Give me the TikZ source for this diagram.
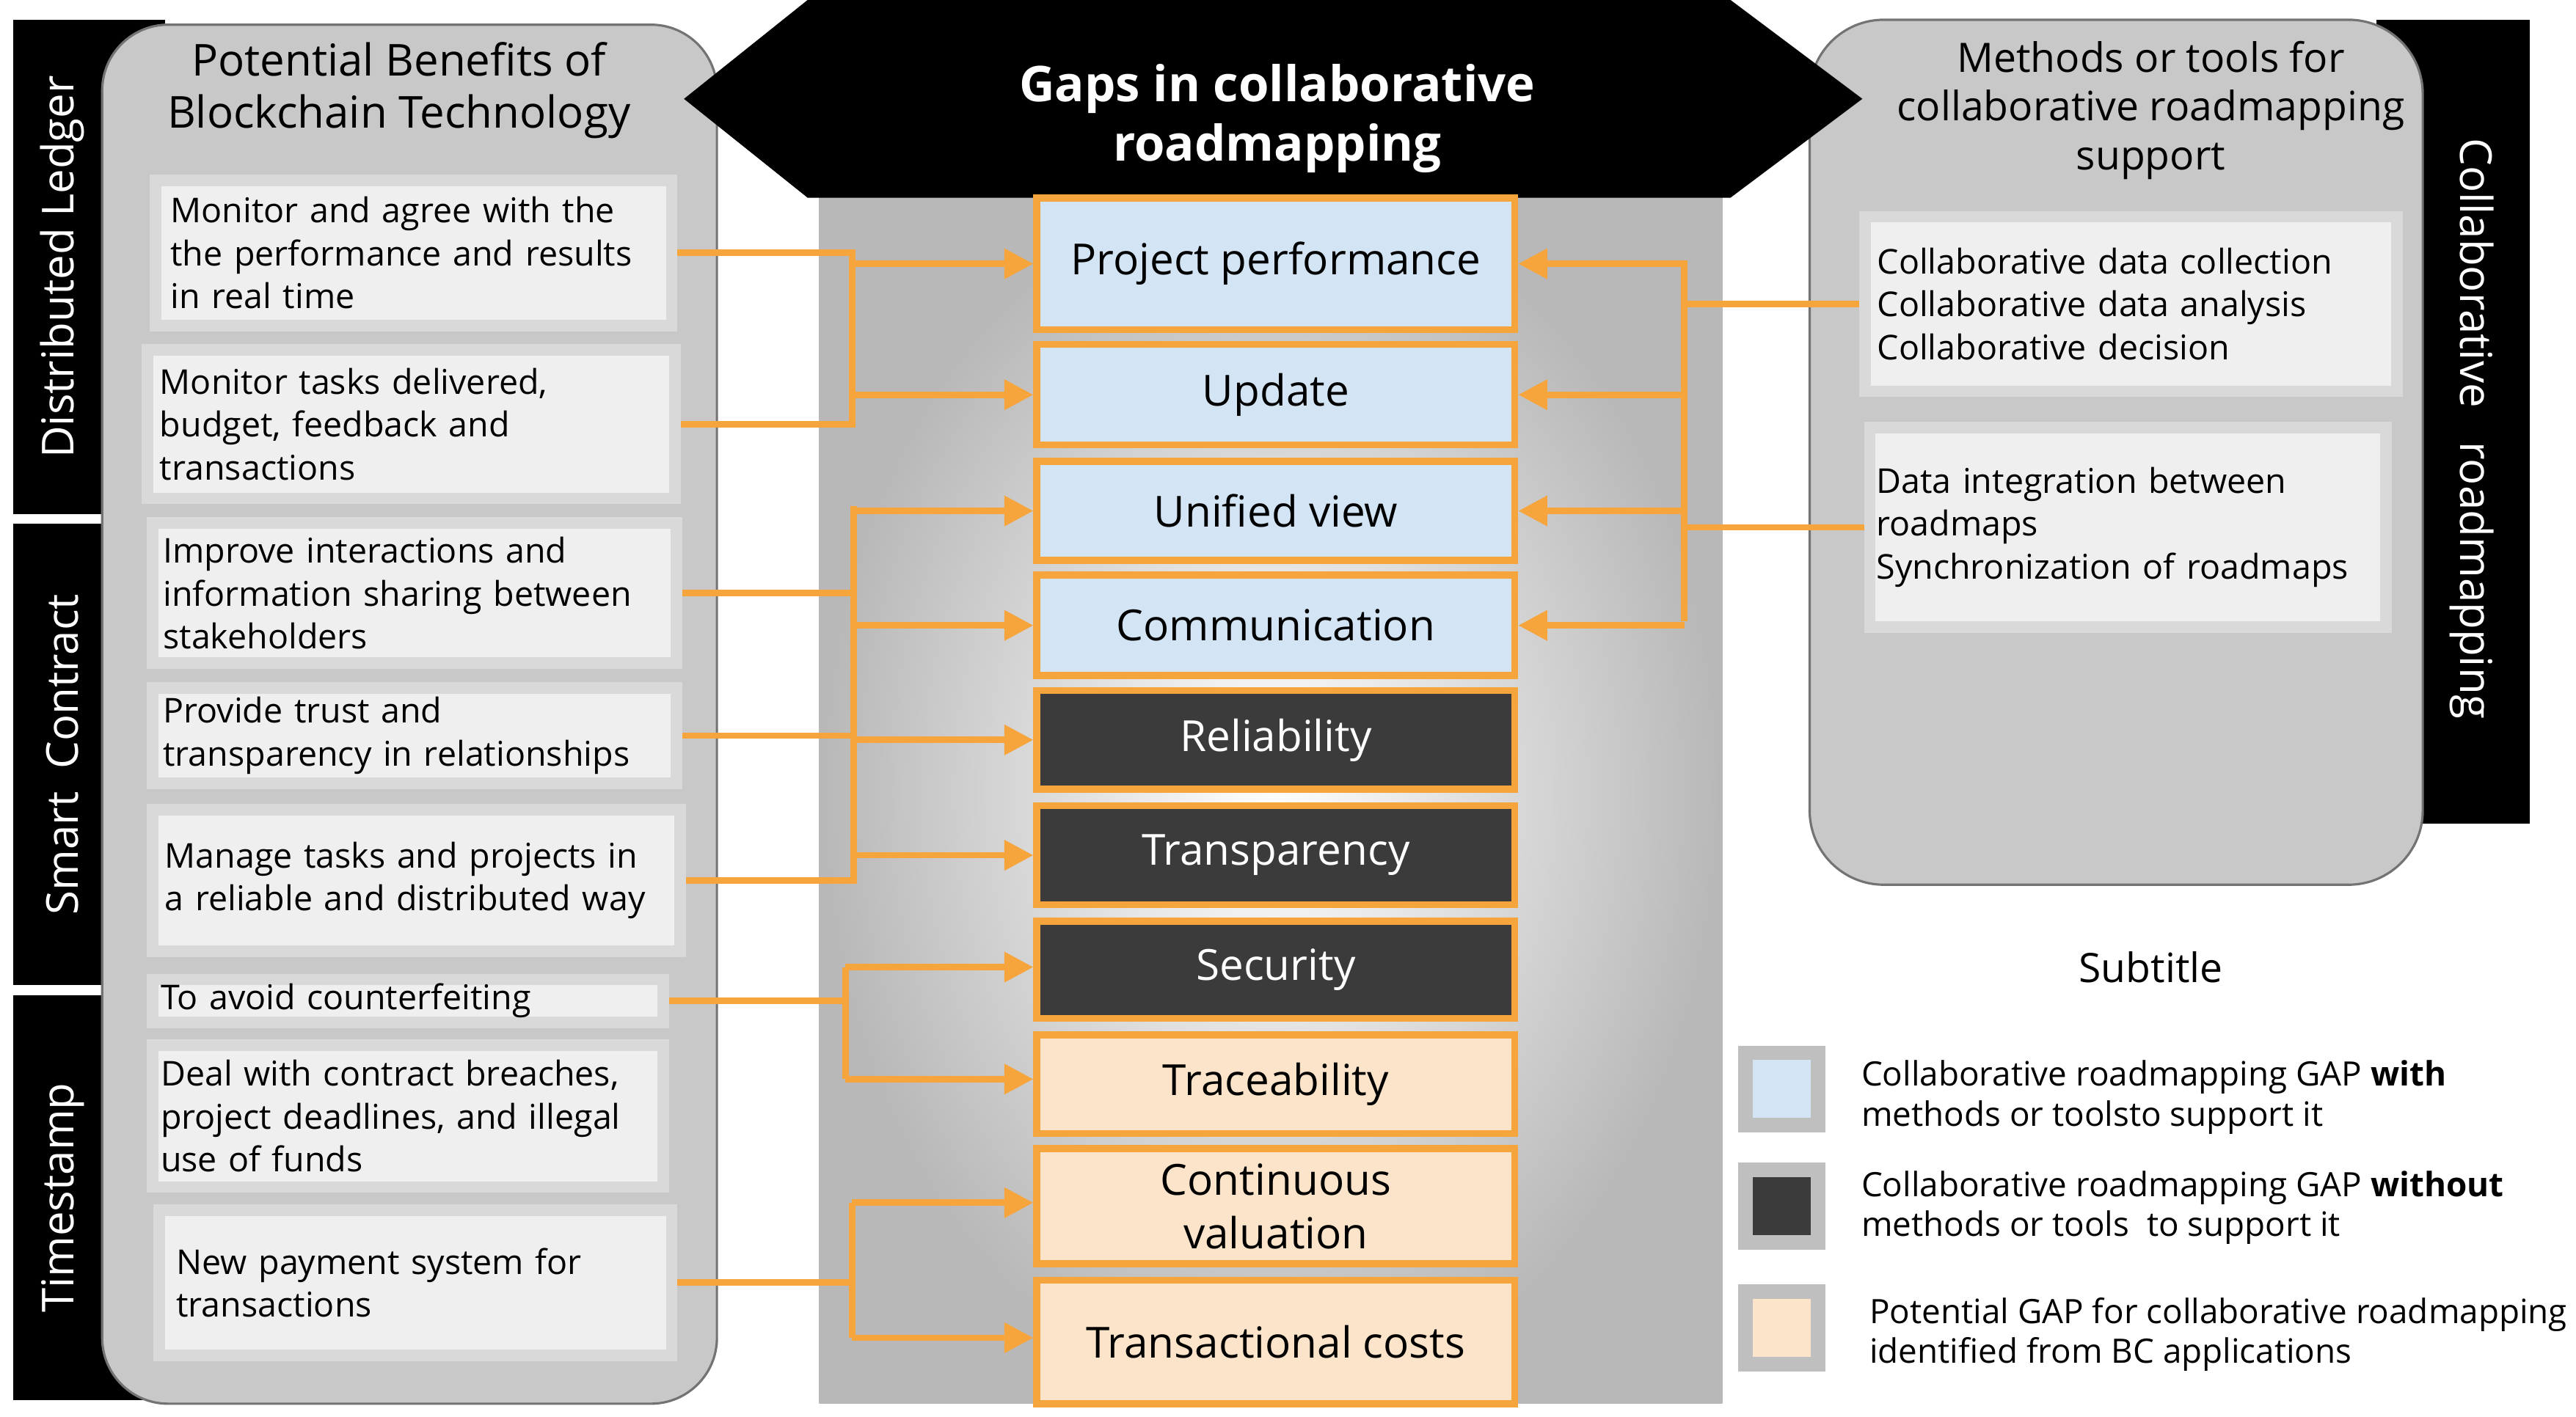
\documentclass[tikz,border=0pt]{standalone}
\usepackage{fontspec}
\setmainfont{Open Sans}
\usetikzlibrary{arrows.meta}
\definecolor{org}{HTML}{F5A53C}
\definecolor{lblue}{HTML}{D3E4F4}
\definecolor{dgray}{HTML}{3B3B3B}
\definecolor{peach}{HTML}{FCE4CA}
\definecolor{panel}{HTML}{C8C8C8}
\definecolor{tbox}{HTML}{EFEFEF}
\begin{document}
\begin{tikzpicture}[x=0.1mm,y=-0.1mm,
 lbox/.style={draw=black!15,line width=2pt,fill=tbox,align=left,anchor=north west,inner sep=0pt,font=\fontsize{5.9}{7.4}\selectfont},
 gap/.style={draw=org,line width=1.2pt,minimum width=29mm,minimum height=#1,anchor=north west,inner sep=0pt,font=\fontsize{7.4}{9.2}\selectfont,align=center},
 blue/.style={fill=lblue}, dark/.style={fill=dgray,text=white}, pch/.style={fill=peach},
 con/.style={draw=org,line width=1.1pt},
 arr/.style={con,-{Triangle[length=5pt,width=5pt]}},
 side/.style={text=white,rotate=90,font=\fontsize{7.6}{9}\selectfont},
 leg/.style={minimum size=4.4mm,line width=2.5pt,draw=black!25,inner sep=0pt},
 legt/.style={anchor=west,align=left,font=\fontsize{5.8}{6.9}\selectfont}]
\useasboundingbox (0,0) rectangle (1563,860);
\fill (8,12) rectangle (100,312);
\fill (8,318) rectangle (100,598);
\fill (8,604) rectangle (100,850);
\node[side] at (38,162) {Distributed Ledger};
\node[side] at (38,458) {Smart\ \ Contract};
\node[side] at (38,727) {Timestamp};
\fill (1442,12) rectangle (1535,500);
\node[side,rotate=180] at (1500,260) {Collaborative\ \ \ roadmapping};
\draw[black!55,fill=panel,rounded corners=4mm] (62,15) rectangle (435,852);
\draw[black!55,fill=panel,rounded corners=4.5mm] (1098,12) rectangle (1470,537);
\node[align=center,font=\fontsize{7.6}{9}\selectfont] (lt) at (242,55) {Potential Benefits of\\Blockchain Technology};
\node[align=center,font=\fontsize{7}{8.4}\selectfont] (rt) at (1305,67) {Methods or tools for\\collaborative roadmapping\\support};
\shade[inner color=white,outer color=black!28] (497,110) rectangle (1045,852);
\fill (415,60) -- (490,0) -- (1050,0) -- (1130,60) -- (1050,120) -- (490,120) -- cycle;
\node[text=white,align=center,font=\bfseries\fontsize{8.5}{10.3}\selectfont] (title) at (775,72) {Gaps in collaborative\\roadmapping};
\node[lbox,minimum width=31.3mm,minimum height=8.8mm,text width=29.5mm] (b1) at (91,106) {Monitor and agree with the\\the performance and results\\in real time};
\node[lbox,minimum width=32mm,minimum height=9mm,text width=30.5mm] (b2) at (86,209) {Monitor tasks delivered,\\budget, feedback and\\transactions};
\node[lbox,minimum width=31.8mm,minimum height=8.5mm,text width=30.5mm] (b3) at (89,314) {Improve interactions and\\information sharing between\\stakeholders};
\node[lbox,minimum width=31.8mm,minimum height=5.8mm,text width=30.5mm] (b4) at (89,414) {Provide trust and\\transparency in relationships};
\node[lbox,minimum width=32mm,minimum height=8.6mm,text width=30.5mm] (b5) at (89,488) {Manage tasks and projects in\\a reliable and distributed way};
\node[lbox,minimum width=31mm,minimum height=2.6mm,text width=30mm] (b6) at (89,591) {To avoid counterfeiting};
\node[lbox,minimum width=31mm,minimum height=8.6mm,text width=30mm] (b7) at (89,631) {Deal with contract breaches,\\project deadlines, and illegal\\use of funds};
\node[lbox,minimum width=31.1mm,minimum height=8.8mm,text width=29mm] (b8) at (93,731) {New payment system for\\transactions};
\node[lbox,minimum width=32.3mm,minimum height=10.6mm,text width=30.8mm] (r1) at (1128,128) {Collaborative data collection\\Collaborative data analysis\\Collaborative decision};
\node[lbox,minimum width=31.3mm,minimum height=12.1mm,text width=30.5mm] (r2) at (1131,256) {Data integration between\\roadmaps\\Synchronization of roadmaps};
\node[gap=8mm,blue] (g1) at (627,118) {Project performance};
\node[gap=6.1mm,blue] (g2) at (627,207) {Update};
\node[gap=6mm,blue] (g3) at (627,278) {Unified view};
\node[gap=6.1mm,blue] (g4) at (627,347) {Communication};
\node[gap=6mm,dark] (g5) at (627,417) {Reliability};
\node[gap=6mm,dark] (g6) at (627,487) {Transparency};
\node[gap=5.9mm,dark] (g7) at (627,557) {Security};
\node[gap=6mm,pch] (g8) at (627,626) {Traceability};
\node[gap=7mm,pch] (g9) at (627,695) {Continuous\\valuation};
\node[gap=7.5mm,pch] (g10) at (627,775) {Transactional costs};
\coordinate (j1) at (517,152); \coordinate (j2) at (517,255);
\coordinate (j3) at (518,307); \coordinate (j4) at (518,530);
\coordinate (j5) at (513,587); \coordinate (j6) at (513,655);
\coordinate (j7) at (517,730); \coordinate (j8) at (517,812);
\coordinate (k1) at (1022,158); \coordinate (k2) at (1022,377);
\draw[con] (b1.east) -- (b1.east -| j1) -- (j2 |- b2.east) -- (b2.east);
\draw[arr] (j1 |- g1.west) -- (g1.west);
\draw[arr] (j1 |- g2.west) -- (g2.west);
\draw[con] (j3) -- (j4 |- b5.east) -- (b5.east);
\draw[con] (b3.east) -- (j3 |- b3.east);
\draw[con] (b4.east) -- (j3 |- b4.east);
\foreach \g in {g3,g4,g5,g6} \draw[arr] (j3 |- \g.west) -- (\g.west);
\draw[con] (b6.east) -- (j5 |- b6.east);
\draw[con] (j5) -- (j6);
\draw[arr] (j5) -- (j5 -| g7.west);
\draw[arr] (j6) -- (j6 -| g8.west);
\draw[con] (b8.east) -- (j7 |- b8.east);
\draw[con] (j7) -- (j8);
\draw[arr] (j7) -- (j7 -| g9.west);
\draw[arr] (j8) -- (j8 -| g10.west);
\draw[con] (k1) -- (k2);
\draw[con] (r1.west) -- (k1 |- r1.west);
\draw[con] (r2.west) -- (k1 |- r2.west);
\foreach \g in {g1,g2,g3,g4} \draw[arr] (k1 |- \g.east) -- (\g.east);
\node[font=\fontsize{7}{8}\selectfont] (sub) at (1305,587) {Subtitle};
\node[leg,fill=lblue] (l1) at (1081,661) {};
\node[leg,fill=dgray] (l2) at (1081,732) {};
\node[leg,fill=peach] (l3) at (1081,806) {};
\node[legt] (t1) at (1117,666) {Collaborative roadmapping GAP \textbf{with}\\methods or toolsto support it};
\node[legt] (t2) at (1117,733) {Collaborative roadmapping GAP \textbf{without}\\methods or tools\ \ to support it};
\node[legt] (t3) at (1122,810) {Potential GAP for collaborative roadmapping\\identified from BC applications};
\end{tikzpicture}
\end{document}
